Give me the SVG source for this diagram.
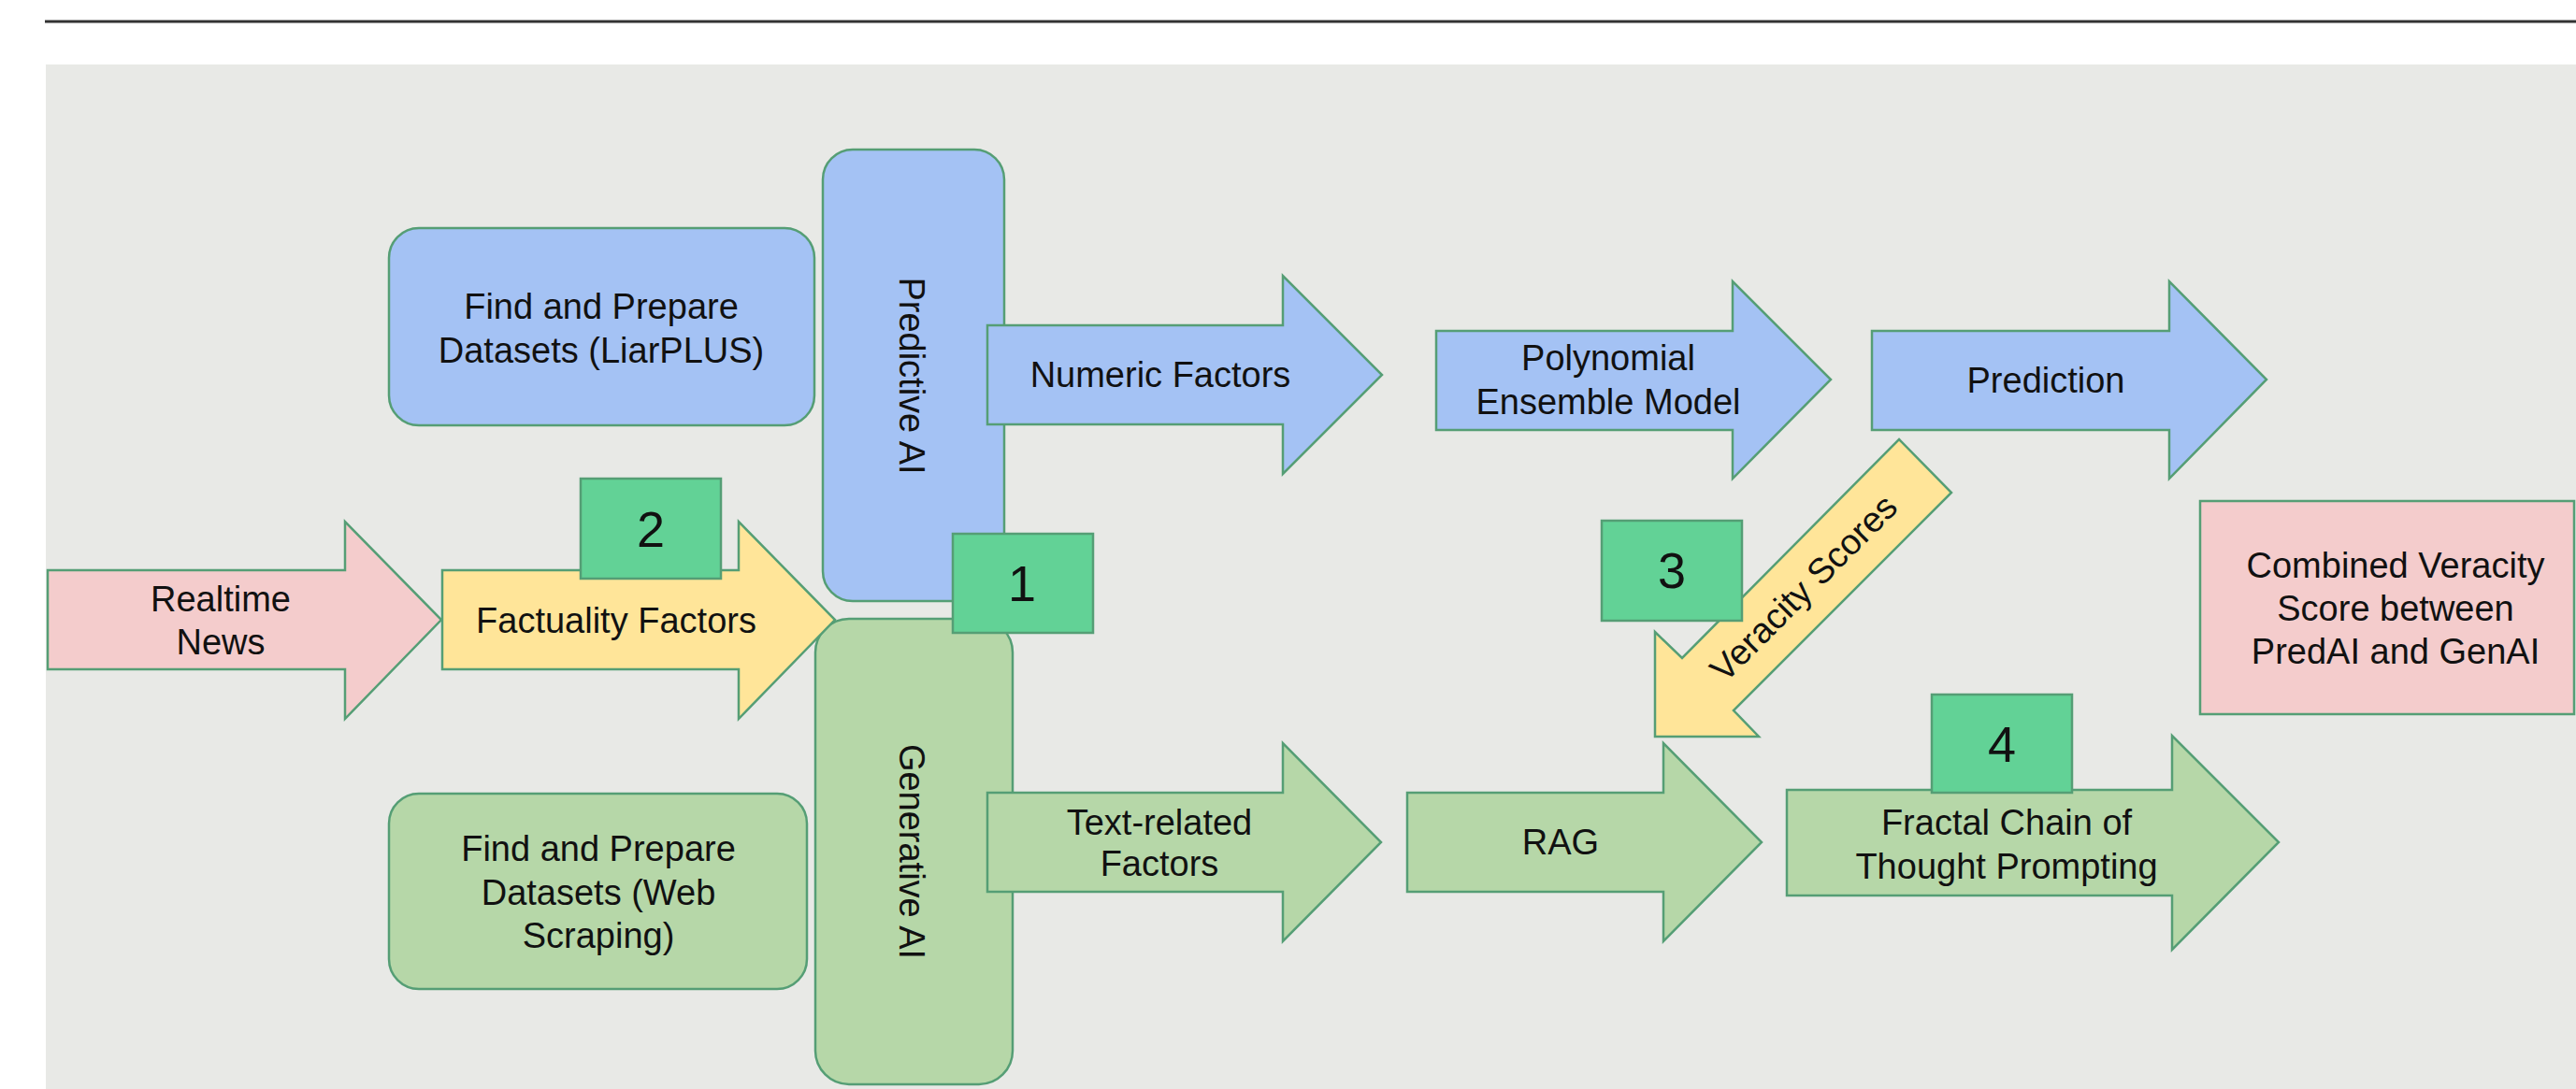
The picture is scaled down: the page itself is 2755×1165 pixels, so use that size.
<svg xmlns="http://www.w3.org/2000/svg" width="2755" height="1165" viewBox="0 0 2755 1165">
<style>
text{font-family:"Liberation Sans",Arial,sans-serif;font-size:38px;fill:#111;text-anchor:middle;dominant-baseline:central}
.s{stroke:#559e75;stroke-width:2.5}
.blue{fill:#a4c2f4}
.green{fill:#b6d7a8}
.yellow{fill:#ffe599}
.pink{fill:#f4cccc}
.num{fill:#62d296}
.n{font-size:54px}
</style>
<rect x="0" y="0" width="2755" height="1165" fill="#ffffff"/>
<line x1="48" y1="23" x2="2755" y2="23" stroke="#333" stroke-width="3"/>
<rect x="49" y="69" width="2706" height="1096" fill="#e8e9e6"/>

<g id="liarplus">
<rect class="s blue" x="416" y="244" width="455" height="211" rx="32"/>
<text x="643" y="328">Find and Prepare</text>
<text x="643" y="375">Datasets (LiarPLUS)</text>
</g>
<g id="predictive-ai">
<rect class="s blue" x="880" y="160" width="194" height="483" rx="32"/>
<text transform="translate(975 402) rotate(90)">Predictive AI</text>
</g>
<g id="numeric-factors">
<polygon class="s blue" points="1056,348 1372,348 1372,295 1478,401 1372,507 1372,454 1056,454"/>
<text x="1241" y="401">Numeric Factors</text>
</g>
<g id="polynomial">
<polygon class="s blue" points="1536,354 1853,354 1853,301 1958,406 1853,512 1853,460 1536,460"/>
<text x="1720" y="383">Polynomial</text>
<text x="1720" y="430">Ensemble Model</text>
</g>
<g id="prediction">
<polygon class="s blue" points="2002,354 2320,354 2320,301 2424,406 2320,512 2320,460 2002,460"/>
<text x="2188" y="407">Prediction</text>
</g>
<g id="realtime-news">
<polygon class="s pink" points="51,610 369,610 369,558 472,663 369,769 369,716 51,716"/>
<text x="236" y="641">Realtime</text>
<text x="236" y="687">News</text>
</g>
<g id="generative-ai">
<rect class="s green" x="872" y="662" width="211" height="498" rx="36"/>
<text transform="translate(975 911) rotate(90)">Generative AI</text>
</g>
<g id="factuality-factors">
<polygon class="s yellow" points="473,610 790,610 790,558 893,663 790,769 790,716 473,716"/>
<text x="659" y="664">Factuality Factors</text>
</g>
<g id="web-scraping">
<rect class="s green" x="416" y="849" width="447" height="209" rx="32"/>
<text x="640" y="908">Find and Prepare</text>
<text x="640" y="955">Datasets (Web</text>
<text x="640" y="1001">Scraping)</text>
</g>
<g id="text-related">
<polygon class="s green" points="1056,848 1372,848 1372,795 1477,901 1372,1007 1372,954 1056,954"/>
<text x="1240" y="880">Text-related</text>
<text x="1240" y="924">Factors</text>
</g>
<g id="rag">
<polygon class="s green" points="1505,848 1779,848 1779,795 1884,901 1779,1007 1779,954 1505,954"/>
<text x="1669" y="901">RAG</text>
</g>
<g id="fractal">
<polygon class="s green" points="1911,845 2323,845 2323,787 2437,901 2323,1016 2323,958 1911,958"/>
<text x="2146" y="880">Fractal Chain of</text>
<text x="2146" y="927">Thought Prompting</text>
</g>
<g id="veracity-scores">
<polygon class="s yellow" points="2031,470 2087,527 1854,760 1881,788 1770,788 1770,676 1799,704"/>
<text transform="translate(1929 629) rotate(-45)">Veracity Scores</text>
</g>
<g id="combined">
<rect class="s pink" x="2353" y="536" width="400" height="228"/>
<text x="2562" y="605">Combined Veracity</text>
<text x="2562" y="651">Score between</text>
<text x="2562" y="697">PredAI and GenAI</text>
</g>
<g id="step-1">
<rect class="s num" x="1019" y="571" width="150" height="106"/>
<text class="n" x="1093" y="624">1</text>
</g>
<g id="step-2">
<rect class="s num" x="621" y="512" width="150" height="107"/>
<text class="n" x="696" y="566">2</text>
</g>
<g id="step-3">
<rect class="s num" x="1713" y="557" width="150" height="107"/>
<text class="n" x="1788" y="610">3</text>
</g>
<g id="step-4">
<rect class="s num" x="2066" y="743" width="150" height="105"/>
<text class="n" x="2141" y="796">4</text>
</g>
<g id="connectors"></g>
</svg>
